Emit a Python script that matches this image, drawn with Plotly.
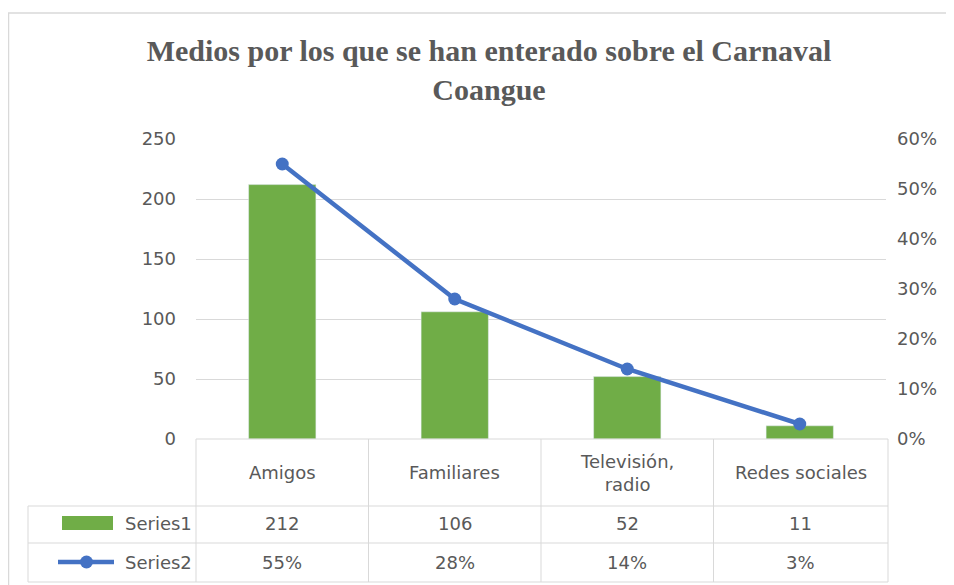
import plotly.graph_objects as go

categories = ["Amigos", "Familiares", "Televisión, radio", "Redes sociales"]
category_labels = ["Amigos", "Familiares", "Televisión,<br>radio", "Redes sociales"]
series1 = [212, 106, 52, 11]
series2 = [0.55, 0.28, 0.14, 0.03]
series1_text = ["212", "106", "52", "11"]
series2_text = ["55%", "28%", "14%", "3%"]
left_ticks = [0, 50, 100, 150, 200, 250]
right_ticks = [0, 0.1, 0.2, 0.3, 0.4, 0.5, 0.6]

GREEN = "#70AD47"
BLUE = "#4472C4"
GRID = "#D9D9D9"
TXT = "#595959"
FONT = "DejaVu Sans"

OFF = 8  # page body margin
SW, SH = 954, 585
W, H = SW - OFF, SH - OFF
# plot area in screen pixels
PL, PR, PT, PB = 196, 886, 139, 439
L, R, T, B = PL - OFF, SW - PR, PT - OFF, SH - PB
pw, ph = PR - PL, PB - PT

def px_x(x):
    return (x - PL) / pw

def px_y(y):
    return (PB - y) / ph

fig = go.Figure()
fig.add_trace(go.Bar(x=categories, y=series1, name="Series1", marker_color=GREEN,
                     width=0.39, yaxis="y"))
fig.add_trace(go.Scatter(x=categories, y=series2, name="Series2", mode="lines+markers",
                         line=dict(color=BLUE, width=4.5), marker=dict(size=13, color=BLUE),
                         yaxis="y2"))

shapes = []
line = dict(color=GRID, width=1)
row_tops = [439, 506, 543, 582]
col_edges = [PL + i * (pw / 4) for i in range(5)]
col_edges[-1] = 888
left_edge = 28
for i, yy in enumerate(row_tops):
    x0 = col_edges[0] if i == 0 else left_edge
    shapes.append(dict(type="line", xref="paper", yref="paper", x0=px_x(x0), x1=px_x(col_edges[-1]),
                       y0=px_y(yy), y1=px_y(yy), line=line))
for xx in col_edges:
    shapes.append(dict(type="line", xref="paper", yref="paper", x0=px_x(xx), x1=px_x(xx),
                       y0=px_y(439), y1=px_y(582), line=line))
shapes.append(dict(type="line", xref="paper", yref="paper", x0=px_x(left_edge), x1=px_x(left_edge),
                   y0=px_y(506), y1=px_y(582), line=line))
# outer chart border
shapes.append(dict(type="rect", xref="paper", yref="paper", x0=px_x(8.5), x1=px_x(980),
                   y0=px_y(13), y1=px_y(620), line=dict(color="#D9D9D9", width=1.5)))
# legend keys
shapes.append(dict(type="rect", xref="paper", yref="paper", x0=px_x(62), x1=px_x(113),
                   y0=px_y(530), y1=px_y(516), fillcolor=GREEN, line=dict(width=0)))
shapes.append(dict(type="line", xref="paper", yref="paper", x0=px_x(58), x1=px_x(114),
                   y0=px_y(562), y1=px_y(562), line=dict(color=BLUE, width=4.5)))
shapes.append(dict(type="circle", xref="paper", yref="paper", x0=px_x(80), x1=px_x(93),
                   y0=px_y(568.5), y1=px_y(555.5), fillcolor=BLUE, line=dict(width=0)))

annotations = []
fnt = dict(family=FONT, size=18, color=TXT)
for i in range(4):
    cx = px_x((col_edges[i] + col_edges[i + 1]) / 2)
    annotations.append(dict(xref="paper", yref="paper", x=cx, y=px_y(472.5), text=category_labels[i],
                            showarrow=False, font=fnt, xanchor="center", yanchor="middle"))
    annotations.append(dict(xref="paper", yref="paper", x=cx, y=px_y(523.5), text=series1_text[i],
                            showarrow=False, font=fnt, xanchor="center", yanchor="middle"))
    annotations.append(dict(xref="paper", yref="paper", x=cx, y=px_y(562), text=series2_text[i],
                            showarrow=False, font=fnt, xanchor="center", yanchor="middle"))
annotations.append(dict(xref="paper", yref="paper", x=px_x(194), y=px_y(523), text="Series1",
                        showarrow=False, font=fnt, xanchor="right", yanchor="middle"))
annotations.append(dict(xref="paper", yref="paper", x=px_x(194), y=px_y(562), text="Series2",
                        showarrow=False, font=fnt, xanchor="right", yanchor="middle"))

fig.update_layout(
    width=W, height=H,
    margin=dict(l=L, r=R, t=T, b=B),
    paper_bgcolor="white", plot_bgcolor="white",
    showlegend=False,
    bargap=0.61,
    title=dict(text="<b>Medios por los que se han enterado sobre el Carnaval<br>Coangue</b>",
               x=(489 - OFF) / W, xanchor="center", y=1 - (61 - OFF) / H, yanchor="middle",
               font=dict(family="Liberation Serif", size=30, color=TXT)),
    xaxis=dict(type="category", range=[-0.5, 3.5], showticklabels=False, showgrid=False,
               zeroline=False, showline=False, ticks=""),
    yaxis=dict(range=[0, 250], tickvals=left_ticks, showgrid=True, gridcolor=GRID, gridwidth=1,
               zeroline=False, showline=False, ticks="", ticklabelstandoff=19,
               tickfont=dict(family=FONT, size=18, color=TXT)),
    yaxis2=dict(range=[0, 0.6], tickvals=right_ticks, tickformat=".0%", overlaying="y", side="right",
                showgrid=False, zeroline=False, showline=False, ticks="", ticklabelstandoff=10,
                tickfont=dict(family=FONT, size=18, color=TXT)),
    shapes=shapes, annotations=annotations,
)

fig.write_html("out.html")
